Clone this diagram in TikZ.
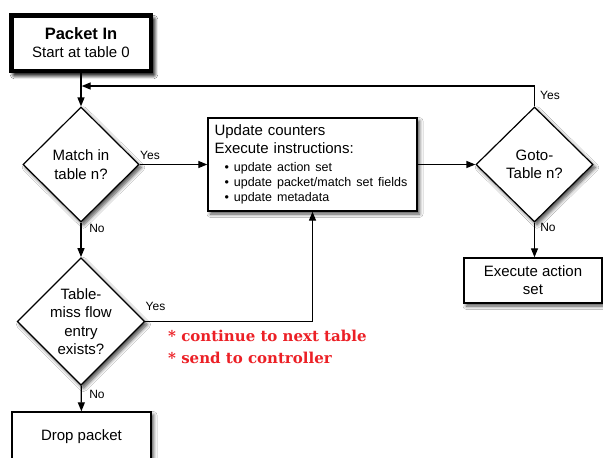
\documentclass[tikz,border=0pt]{standalone}
\usepackage{fontspec}
\setmainfont{Liberation Sans}
\newfontfamily\notefont{DejaVu Serif}
\usetikzlibrary{shapes.geometric, arrows.meta, shadows.blur}

\definecolor{notered}{RGB}{236,32,38}

\begin{document}
\begin{tikzpicture}[x=1pt, y=-1pt,
  softshadow/.style={blur shadow={shadow xshift=2.5pt, shadow yshift=-3pt,
      shadow blur radius=3.5pt, shadow blur steps=6, shadow opacity=70}},
  box/.style={draw, line width=1.4pt, fill=white, softshadow, inner sep=0pt,
      align=center, font=\fontsize{15}{18}\selectfont},
  startbox/.style={box, line width=4.5pt,
      blur shadow={shadow xshift=3pt, shadow yshift=-4pt,
      shadow blur radius=4pt, shadow blur steps=6, shadow opacity=80}},
  decision/.style={diamond, aspect=1, draw, line width=1.2pt, fill=white,
      softshadow, inner sep=0pt, align=center, font=\fontsize{15}{18.3}\selectfont},
  flow/.style={line width=1.3pt, -{Triangle[length=9pt,width=7pt]}},
  tag/.style={font=\fontsize{12}{14}\selectfont, inner sep=0pt},
  note/.style={font=\notefont\bfseries\fontsize{15}{17}\selectfont,
      text=notered, anchor=west, inner sep=0pt}]

  \useasboundingbox (0,0) rectangle (603,458);
  \fill[white] (0,0) rectangle (603,458);
  \clip (0,0) rectangle (603,458);

  % entry point
  \node[startbox, minimum width=139.5pt, minimum height=55.5pt] (start) at (81,43)
    {{\fontsize{16.5}{18}\selectfont\bfseries Packet In}\\Start at table 0};

  % decisions
  \node[decision, minimum width=116pt, minimum height=115pt] (match) at (81,164.5)
    {Match in\\table n?};
  \node[decision, minimum width=127pt, minimum height=127pt] (miss) at (81,321.5)
    {Table-\\miss flow\\entry\\exists?};
  \node[decision, minimum width=117pt, minimum height=115pt] (goto) at (534.5,164.5)
    {Goto-\\Table n?};

  % instruction processing
  \node[box, minimum width=209pt, minimum height=93pt, text width=196pt, align=left]
    (update) at (312.5,164.5) {%
    {\fontsize{15}{18}\selectfont Update counters\\Execute instructions:\par}%
    \vspace{2pt}%
    {\fontsize{12.5}{15.2}\selectfont
     \hspace*{10pt}\textbullet\ update action set\\
     \hspace*{10pt}\textbullet\ update packet/match set fields\\
     \hspace*{10pt}\textbullet\ update metadata\par}};

  % terminal actions
  \node[box, minimum width=138pt, minimum height=45pt] (exec) at (533,280.5)
    {Execute action\\set};
  \node[box, minimum width=139pt, minimum height=50pt] (drop) at (81.5,437)
    {Drop packet};

  % connectors
  \coordinate (join) at (81,86);
  \draw[flow] (start) -- (match);
  \draw[flow] (match) -- (update);
  \draw[flow] (match) -- (miss);
  \draw[flow] (miss.east) -| (update.south);
  \draw[flow] (miss) -- (drop);
  \draw[flow] (update) -- (goto);
  \draw[flow] (goto.south) -- (goto.south |- exec.north);
  \draw[flow, shorten >=0.7pt] (goto.north) |- (join);

  % branch labels
  \node[tag] (yesmatch) at (150,155) {Yes};
  \node[tag] (nomatch) at (97,228) {No};
  \node[tag] (yesmiss) at (155.5,306) {Yes};
  \node[tag] (nomiss) at (97,394) {No};
  \node[tag] (yesgoto) at (550,95) {Yes};
  \node[tag] (nogoto) at (548,227) {No};

  % table-miss options
  \node[note] (opt1) at (168,336) {* continue to next table};
  \node[note] (opt2) at (168,358) {* send to controller};
\end{tikzpicture}
\end{document}
